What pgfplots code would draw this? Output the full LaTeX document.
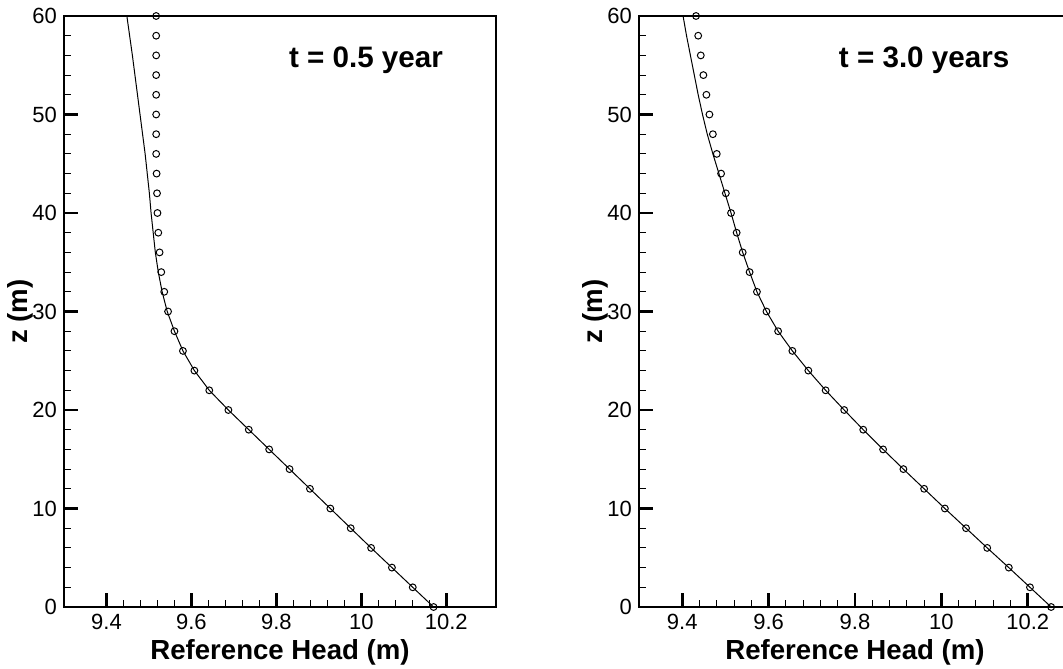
\documentclass[border=0pt]{standalone}
\usepackage{pgfplots}
\pgfplotsset{compat=1.18}
\usepackage{fontspec}
\setmainfont{Liberation Sans}

% z (m) vs reference head (m)
\pgfplotstableread{
z h
0 10.170
2 10.121
4 10.072
6 10.023
8 9.975
10 9.927
12 9.879
14 9.831
16 9.783
18 9.735
20 9.687
22 9.642
24 9.607
26 9.580
28 9.560
30 9.543
32 9.531
34 9.522
36 9.515
38 9.510
40 9.505
42 9.501
44 9.496
46 9.491
48 9.485
52 9.473
56 9.461
60 9.448
}\lineA
\pgfplotstableread{
z h
0 10.170
2 10.121
4 10.072
6 10.023
8 9.975
10 9.927
12 9.879
14 9.831
16 9.783
18 9.735
20 9.687
22 9.642
24 9.607
26 9.580
28 9.560
30 9.545
32 9.536
34 9.529
36 9.525
38 9.522
40 9.520
42 9.519
44 9.518
46 9.517
48 9.517
50 9.517
52 9.517
54 9.517
56 9.517
58 9.517
60 9.517
}\markA
\pgfplotstableread{
z h
0 10.254
2 10.205
4 10.156
6 10.106
8 10.057
10 10.008
12 9.960
14 9.912
16 9.865
18 9.819
20 9.775
22 9.732
24 9.692
26 9.655
28 9.622
30 9.595
32 9.573
34 9.556
36 9.540
38 9.526
40 9.513
42 9.499
44 9.485
46 9.471
48 9.458
50 9.447
52 9.437
54 9.428
56 9.419
58 9.410
60 9.402
}\lineB
\pgfplotstableread{
z h
0 10.254
2 10.205
4 10.156
6 10.106
8 10.057
10 10.008
12 9.960
14 9.912
16 9.865
18 9.819
20 9.775
22 9.732
24 9.692
26 9.655
28 9.622
30 9.595
32 9.573
34 9.556
36 9.540
38 9.526
40 9.513
42 9.501
44 9.490
46 9.480
48 9.471
50 9.463
52 9.456
54 9.449
56 9.443
58 9.437
60 9.432
}\markB

\pgfplotsset{
  headaxis/.style={
    width=216pt, height=295.5pt, scale only axis,
    xmin=9.3, ymin=0, ymax=60,
    xtick={9.4,9.6,9.8,10,10.2},
    ytick={0,10,...,60},
    minor x tick num=4, minor y tick num=4,
    tick align=inside, xtick pos=bottom, ytick pos=left,
    major tick length=7pt, minor tick length=3.5pt,
    every major tick/.append style={line width=1.4pt, black},
    every minor tick/.append style={line width=0.5pt, black},
    axis line style={line width=1.3pt},
    tick label style={font=\fontsize{11}{13}\selectfont},
    /pgf/number format/assume math mode=true,
    label style={font=\bfseries\fontsize{13.8}{16}\selectfont},
    xlabel={Reference Head (m)},
    xlabel style={yshift=2pt},
    ylabel={z (m)},
    ylabel style={at={(axis description cs:-0.1,0.5)}, anchor=center},
    clip=false,
  },
  headline/.style={no marks, line width=0.5pt, black},
  headmarks/.style={only marks, mark=o, mark size=1.7pt, mark options={line width=0.5pt, fill=white}, black},
}

\begin{document}
\begin{tikzpicture}
\begin{axis}[headaxis, xmax=10.317, at={(0,0)}, anchor=south west]
  \addplot[headline] table[x=h, y=z] {\lineA};
  \addplot[headmarks] table[x=h, y=z] {\markA};
  \node[font=\bfseries\fontsize{14.8}{17}\selectfont] at (rel axis cs:0.699,0.925) {t = 0.5 year};
\end{axis}
\begin{axis}[headaxis, xmax=10.30, at={(287.5pt,0)}, anchor=south west]
  \addplot[headline] table[x=h, y=z] {\lineB};
  \addplot[headmarks] table[x=h, y=z] {\markB};
  \node[font=\bfseries\fontsize{14.8}{17}\selectfont] at (rel axis cs:0.66,0.925) {t = 3.0 years};
\end{axis}
\pgfresetboundingbox
\useasboundingbox (-32pt,-30.5pt) rectangle (499.5pt,303.5pt);
\end{tikzpicture}
\end{document}
